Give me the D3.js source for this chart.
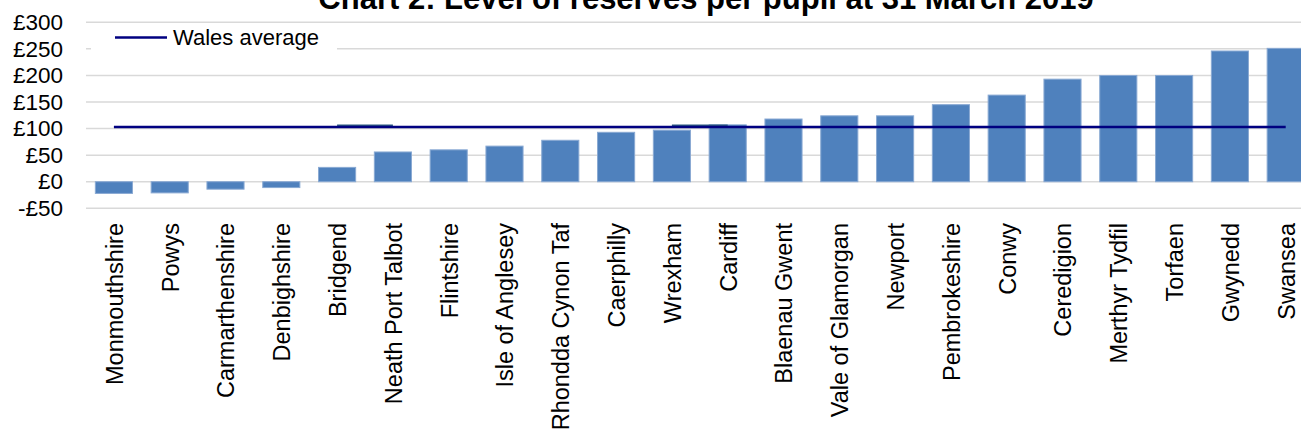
<!DOCTYPE html>
<html>
<head>
<meta charset="utf-8">
<script src="https://cdn.jsdelivr.net/npm/d3@7"></script>
<style>
  html, body { margin: 0; padding: 0; background: #ffffff; overflow: hidden; }
  svg { display: block; font-family: "Liberation Sans", Arial, sans-serif; }
</style>
</head>
<body>
<svg id="chart" width="1301" height="434"></svg>
<script>
const titleText = "Chart 2: Level of reserves per pupil at 31 March 2019";
const categories = ["Monmouthshire","Powys","Carmarthenshire","Denbighshire","Bridgend","Neath Port Talbot","Flintshire","Isle of Anglesey","Rhondda Cynon Taf","Caerphilly","Wrexham","Cardiff","Blaenau Gwent","Vale of Glamorgan","Newport","Pembrokeshire","Conwy","Ceredigion","Merthyr Tydfil","Torfaen","Gwynedd","Swansea"];
const reserves = [-22, -21, -14, -11, 27, 56, 60, 67, 78, 93, 97, 107, 118, 124, 124, 145, 163, 193, 200, 200, 246, 251];
const walesAverage = 103;
const overlaySegment = [null,null,null,null,104.5,104.5,null,null,null,null,104.5,104.5,null,null,null,null,null,null,null,null,null,null];
const yTicks = [-50, 0, 50, 100, 150, 200, 250, 300];
const legendLabel = "Wales average";

const svg = d3.select("#chart");
const x = d3.scaleBand().domain(categories).range([86, 86 + 22 * 55.8]).paddingInner(0.335).paddingOuter(0.1675);
const y = d3.scaleLinear().domain([-50, 300]).range([208.3, 22.3]);

// title
svg.append("text").attr("x", 706).attr("y", 9).attr("text-anchor", "middle")
  .attr("font-size", 31).attr("font-weight", "bold").attr("fill", "#000").text(titleText);

// gridlines
svg.append("g").selectAll("line").data(yTicks).join("line")
  .attr("x1", 86).attr("x2", 1301)
  .attr("y1", d => y(d)).attr("y2", d => y(d))
  .attr("stroke", "#d9d9d9").attr("stroke-width", 1.5);

// y axis labels
const yAxis = d3.axisLeft(y).tickValues(yTicks).tickSize(0).tickPadding(0)
  .tickFormat(d => (d < 0 ? "-£" + Math.abs(d) : "£" + d));
const gy = svg.append("g").attr("transform", "translate(63,0)").call(yAxis);
gy.select(".domain").remove();
gy.selectAll("text").attr("font-size", 22.5).attr("fill", "#000")
  .attr("font-family", "'Liberation Sans', Arial, sans-serif");

// bars
svg.append("g").selectAll("rect").data(categories).join("rect")
  .attr("x", d => x(d))
  .attr("width", x.bandwidth())
  .attr("y", (d, i) => y(Math.max(0, reserves[i])))
  .attr("height", (d, i) => Math.abs(y(reserves[i]) - y(0)))
  .attr("fill", "#4f81bd").attr("stroke", "#89a9d3").attr("stroke-width", 1);

// overlay segments
const lineGen = d3.line()
  .defined(d => d.v !== null)
  .x(d => x(d.c) + x.bandwidth() / 2)
  .y(d => y(d.v));
svg.append("path")
  .datum(categories.map((c, i) => ({c, v: overlaySegment[i]})))
  .attr("d", lineGen).attr("fill", "none").attr("stroke", "#2c5a80").attr("stroke-width", 3.5);

// Wales average line
svg.append("path")
  .datum(categories.map(c => ({c, v: walesAverage})))
  .attr("d", lineGen).attr("fill", "none").attr("stroke", "#000080").attr("stroke-width", 2.6);

// category labels
svg.append("g").selectAll("text").data(categories).join("text")
  .attr("transform", d => `translate(${x(d) + x.bandwidth() / 2},223) rotate(-90)`)
  .attr("text-anchor", "end").attr("dy", "0.38em")
  .attr("font-size", 23.5).attr("fill", "#000").text(d => d);

// legend
const lg = svg.append("g");
lg.append("rect").attr("x", 91).attr("y", 24).attr("width", 246).attr("height", 27).attr("fill", "#fff");
lg.append("line").attr("x1", 115).attr("x2", 167).attr("y1", 37.5).attr("y2", 37.5)
  .attr("stroke", "#000080").attr("stroke-width", 2.6);
lg.append("text").attr("x", 173).attr("y", 37.5).attr("dy", "0.35em")
  .attr("font-size", 22).attr("fill", "#000").text(legendLabel);
</script>
</body>
</html>
